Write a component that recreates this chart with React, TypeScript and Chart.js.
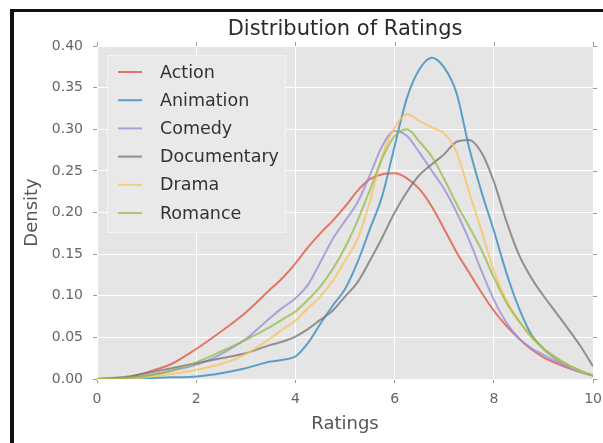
import { useEffect, useRef } from "react";
import { Chart, registerables } from "chart.js";

Chart.register(...registerables);

// Rating grid shared by every density curve
const ratings = [
  0, 0.5, 1, 1.5, 2, 2.5, 3, 3.5, 3.75, 4, 4.25, 4.5, 4.75, 5, 5.25, 5.5, 5.75,
  6, 6.25, 6.5, 6.75, 7, 7.25, 7.5, 7.75, 8, 8.25, 8.5, 8.75, 9, 9.25, 9.5, 9.75, 10,
];

const action = [
  0, 0.001, 0.008, 0.018, 0.036, 0.057, 0.08, 0.108, 0.122, 0.139, 0.158, 0.175, 0.19,
  0.207, 0.226, 0.24, 0.246, 0.247, 0.241, 0.228, 0.207, 0.18, 0.152, 0.128, 0.104,
  0.082, 0.064, 0.049, 0.036, 0.026, 0.019, 0.013, 0.008, 0.004,
];
const animation = [
  0, 0, 0.001, 0.002, 0.003, 0.007, 0.013, 0.021, 0.023, 0.027, 0.043, 0.066, 0.088,
  0.108, 0.14, 0.18, 0.22, 0.28, 0.338, 0.372, 0.386, 0.374, 0.343, 0.278, 0.225,
  0.178, 0.128, 0.086, 0.054, 0.036, 0.024, 0.015, 0.009, 0.004,
];
const comedy = [
  0, 0.001, 0.004, 0.01, 0.017, 0.03, 0.048, 0.074, 0.086, 0.097, 0.113, 0.14, 0.168,
  0.19, 0.212, 0.245, 0.28, 0.298, 0.292, 0.272, 0.25, 0.228, 0.2, 0.167, 0.13,
  0.095, 0.068, 0.049, 0.037, 0.029, 0.021, 0.014, 0.008, 0.004,
];
const documentary = [
  0, 0.002, 0.007, 0.013, 0.019, 0.025, 0.031, 0.041, 0.045, 0.051, 0.06, 0.071, 0.082,
  0.099, 0.116, 0.142, 0.17, 0.2, 0.225, 0.245, 0.258, 0.27, 0.285, 0.287, 0.272,
  0.237, 0.19, 0.15, 0.122, 0.1, 0.08, 0.06, 0.039, 0.015,
];
const drama = [
  0, 0, 0.002, 0.006, 0.011, 0.018, 0.03, 0.049, 0.06, 0.07, 0.085, 0.099, 0.118,
  0.142, 0.168, 0.213, 0.268, 0.302, 0.318, 0.31, 0.302, 0.295, 0.272, 0.225, 0.178,
  0.13, 0.095, 0.07, 0.05, 0.036, 0.025, 0.016, 0.009, 0.004,
];
const romance = [
  0, 0.001, 0.004, 0.01, 0.02, 0.033, 0.047, 0.063, 0.072, 0.081, 0.095, 0.111, 0.132,
  0.158, 0.19, 0.227, 0.265, 0.292, 0.3, 0.285, 0.267, 0.24, 0.21, 0.183, 0.155,
  0.122, 0.092, 0.07, 0.052, 0.037, 0.026, 0.017, 0.01, 0.004,
];

const genres = ["Action", "Animation", "Comedy", "Documentary", "Drama", "Romance"];
const genreSeries = [action, animation, comedy, documentary, drama, romance];
const genreColors = [
  "rgba(226,74,51,0.72)",
  "rgba(52,138,189,0.78)",
  "rgba(152,142,213,0.78)",
  "rgba(119,119,119,0.78)",
  "rgba(251,193,94,0.78)",
  "rgba(142,186,66,0.72)",
];

const densityTicks = [0, 0.05, 0.1, 0.15, 0.2, 0.25, 0.3, 0.35, 0.4];
const ratingTicks = [0, 2, 4, 6, 8, 10];
const chartTitle = "Distribution of Ratings";

const FONT = "'DejaVu Sans', sans-serif";
const TICK_MARK = "#9a9a9a";
// The canvas runs a little past the frame so the panel reaches its right edge
const CANVAS_W = 610;
const CANVAS_H = 443;

// Grey panel behind the grid, ggplot style
const panelBackground = {
  id: "panelBackground",
  beforeDraw(chart: any) {
    const { ctx, chartArea } = chart;
    ctx.save();
    ctx.fillStyle = "#E5E5E5";
    ctx.fillRect(chartArea.left, chartArea.top, chartArea.right - chartArea.left, chartArea.bottom - chartArea.top);
    ctx.restore();
  },
};

// Mirrored tick marks on the top and right sides of the panel
const mirrorTicks = {
  id: "mirrorTicks",
  afterDraw(chart: any) {
    const { ctx, chartArea, scales } = chart;
    ctx.save();
    ctx.strokeStyle = TICK_MARK;
    ctx.lineWidth = 1;
    ctx.beginPath();
    ratingTicks.forEach((v) => {
      const px = Math.round(scales.x.getPixelForValue(v)) + 0.5;
      ctx.moveTo(px, chartArea.top);
      ctx.lineTo(px, chartArea.top - 4);
    });
    densityTicks.forEach((v) => {
      const py = Math.round(scales.y.getPixelForValue(v)) + 0.5;
      ctx.moveTo(chartArea.right, py);
      ctx.lineTo(chartArea.right + 4, py);
    });
    ctx.stroke();
    ctx.restore();
  },
};

// Title centred over the panel rather than the whole canvas
const panelTitle = {
  id: "panelTitle",
  afterDraw(chart: any) {
    const { ctx, chartArea } = chart;
    ctx.save();
    ctx.font = `21px ${FONT}`;
    ctx.fillStyle = "#2b2b2b";
    ctx.textAlign = "center";
    ctx.textBaseline = "middle";
    ctx.fillText(chartTitle, (chartArea.left + chartArea.right) / 2, chartArea.top - 16);
    ctx.restore();
  },
};

// Legend drawn inside the upper-left corner of the panel
const insetLegend = {
  id: "insetLegend",
  afterDraw(chart: any) {
    const { ctx, chartArea } = chart;
    const datasets = chart.data.datasets;
    const x0 = chartArea.left + 10;
    const y0 = chartArea.top + 9;
    const rowH = 28.2;
    const w = 178;
    const h = 177;
    ctx.save();
    ctx.fillStyle = "#E9E9E9";
    ctx.fillRect(x0, y0, w, h);
    ctx.strokeStyle = "#F4F4F4";
    ctx.lineWidth = 1;
    ctx.strokeRect(x0 + 0.5, y0 + 0.5, w, h);
    ctx.font = `17.5px ${FONT}`;
    ctx.textBaseline = "middle";
    ctx.textAlign = "left";
    datasets.forEach((ds: any, i: number) => {
      const cy = y0 + 17 + i * rowH;
      ctx.strokeStyle = ds.borderColor;
      ctx.lineWidth = 2;
      ctx.beginPath();
      ctx.moveTo(x0 + 11, cy);
      ctx.lineTo(x0 + 35, cy);
      ctx.stroke();
      ctx.fillStyle = "#333333";
      ctx.fillText(ds.label, x0 + 53, cy + 1);
    });
    ctx.restore();
  },
};

export default function App() {
  const canvasRef = useRef<HTMLCanvasElement | null>(null);

  useEffect(() => {
    const canvas = canvasRef.current;
    if (!canvas) return;

    const datasets = genres.map((name, i) => ({
      label: name,
      data: ratings.map((r, k) => ({ x: r, y: genreSeries[i][k] })),
      borderColor: genreColors[i],
      backgroundColor: genreColors[i],
      borderWidth: 2,
      pointRadius: 0,
      fill: false,
      cubicInterpolationMode: "monotone" as const,
      order: genres.length - i,
    }));

    const chart = new Chart(canvas, {
      type: "line",
      data: { datasets },
      plugins: [panelBackground, mirrorTicks, insetLegend, panelTitle],
      options: {
        animation: false,
        responsive: false,
        maintainAspectRatio: false,
        devicePixelRatio: 1,
        layout: { autoPadding: false, padding: { left: 0, right: 6, top: 46, bottom: 0 } },
        plugins: {
          legend: { display: false },
          tooltip: { enabled: false },
          title: { display: false },
        },
        scales: {
          x: {
            type: "linear",
            position: "bottom",
            min: 0,
            max: 10,
            afterBuildTicks: (s: any) => {
              s.ticks = ratingTicks.map((v) => ({ value: v }));
            },
            afterFit: (s: any) => {
              s.height = 64;
            },
            border: { display: false },
            grid: { color: "#FFFFFF", lineWidth: 1, tickColor: TICK_MARK, tickLength: 4, drawTicks: true },
            ticks: {
              color: "#666666",
              font: { family: FONT, size: 14 },
              padding: 8,
              maxRotation: 0,
              callback: (v: any) => String(v),
            },
            title: {
              display: true,
              text: "Ratings",
              color: "#555555",
              font: { family: FONT, size: 18 },
              padding: { top: 0, bottom: 8 },
            },
          },
          y: {
            type: "linear",
            position: "left",
            min: 0,
            max: 0.4,
            afterBuildTicks: (s: any) => {
              s.ticks = densityTicks.map((v) => ({ value: v }));
            },
            afterFit: (s: any) => {
              s.width = 97;
            },
            border: { display: false },
            grid: { color: "#FFFFFF", lineWidth: 1, tickColor: TICK_MARK, tickLength: 4 },
            ticks: {
              color: "#666666",
              font: { family: FONT, size: 14 },
              padding: 10,
              callback: (v: any) => Number(v).toFixed(2),
            },
            title: {
              display: true,
              text: "Density",
              color: "#555555",
              font: { family: FONT, size: 18 },
              padding: { top: 22, bottom: 0 },
            },
          },
        },
      },
    });

    return () => {
      chart.destroy();
    };
  }, []);

  return (
    <div
      style={{
        position: "fixed",
        left: 0,
        top: 0,
        width: 603,
        height: 443,
        background: "#FFFFFF",
        overflow: "hidden",
      }}
    >
      <canvas
        ref={canvasRef}
        width={CANVAS_W}
        height={CANVAS_H}
        style={{ position: "absolute", left: 0, top: 0, width: CANVAS_W, height: CANVAS_H }}
      />
      <div
        style={{
          position: "absolute",
          left: 10,
          top: 9,
          width: 620,
          height: 460,
          borderTop: "3px solid #111111",
          borderLeft: "4px solid #111111",
          pointerEvents: "none",
        }}
      />
    </div>
  );
}
